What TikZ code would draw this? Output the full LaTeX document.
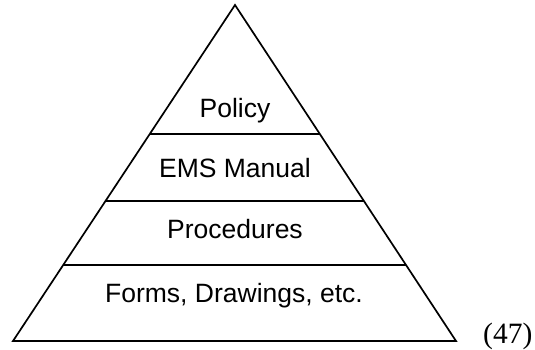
\documentclass[tikz,border=0pt]{standalone}
\usepackage{fontspec}
\setmainfont{Liberation Sans}
\newfontfamily\numfont{Liberation Serif}
\usetikzlibrary{calc}
\tikzset{
    layer/.style={font=\fontsize{26.5}{30}\selectfont, anchor=base, inner sep=0pt},
    edge/.style={line width=1.7pt, black, line join=miter},
    eqnum/.style={font=\numfont\fontsize{29.5}{32}\selectfont, anchor=base west, inner sep=0pt},
}

\begin{document}
\begin{tikzpicture}[x=1pt, y=-1pt]
        \useasboundingbox (0,0) rectangle (535,349);

        % Pyramid corners
        \coordinate (apex) at (235,5);
        \coordinate (bl) at (13,341);
        \coordinate (br) at (456,341);
        \draw[edge] (bl) -- (apex) -- (br) -- cycle;

        % Layer dividers
        \draw[edge] ($(apex)!0.384!(bl)$) -- ($(apex)!0.384!(br)$);
        \draw[edge] ($(apex)!0.583!(bl)$) -- ($(apex)!0.583!(br)$);
        \draw[edge] ($(apex)!0.774!(bl)$) -- ($(apex)!0.774!(br)$);

        % Labels
        \node[layer] (policy) at (235,117) {Policy};
        \node[layer] (manual) at (235,177) {EMS Manual};
        \node[layer] (proc) at (235,238) {Procedures};
        \node[layer] (forms) at (234,302) {Forms, Drawings, etc.};

        % Number
        \node[eqnum] (num) at (483,343) {(47)};
    \end{tikzpicture}
\end{document}
